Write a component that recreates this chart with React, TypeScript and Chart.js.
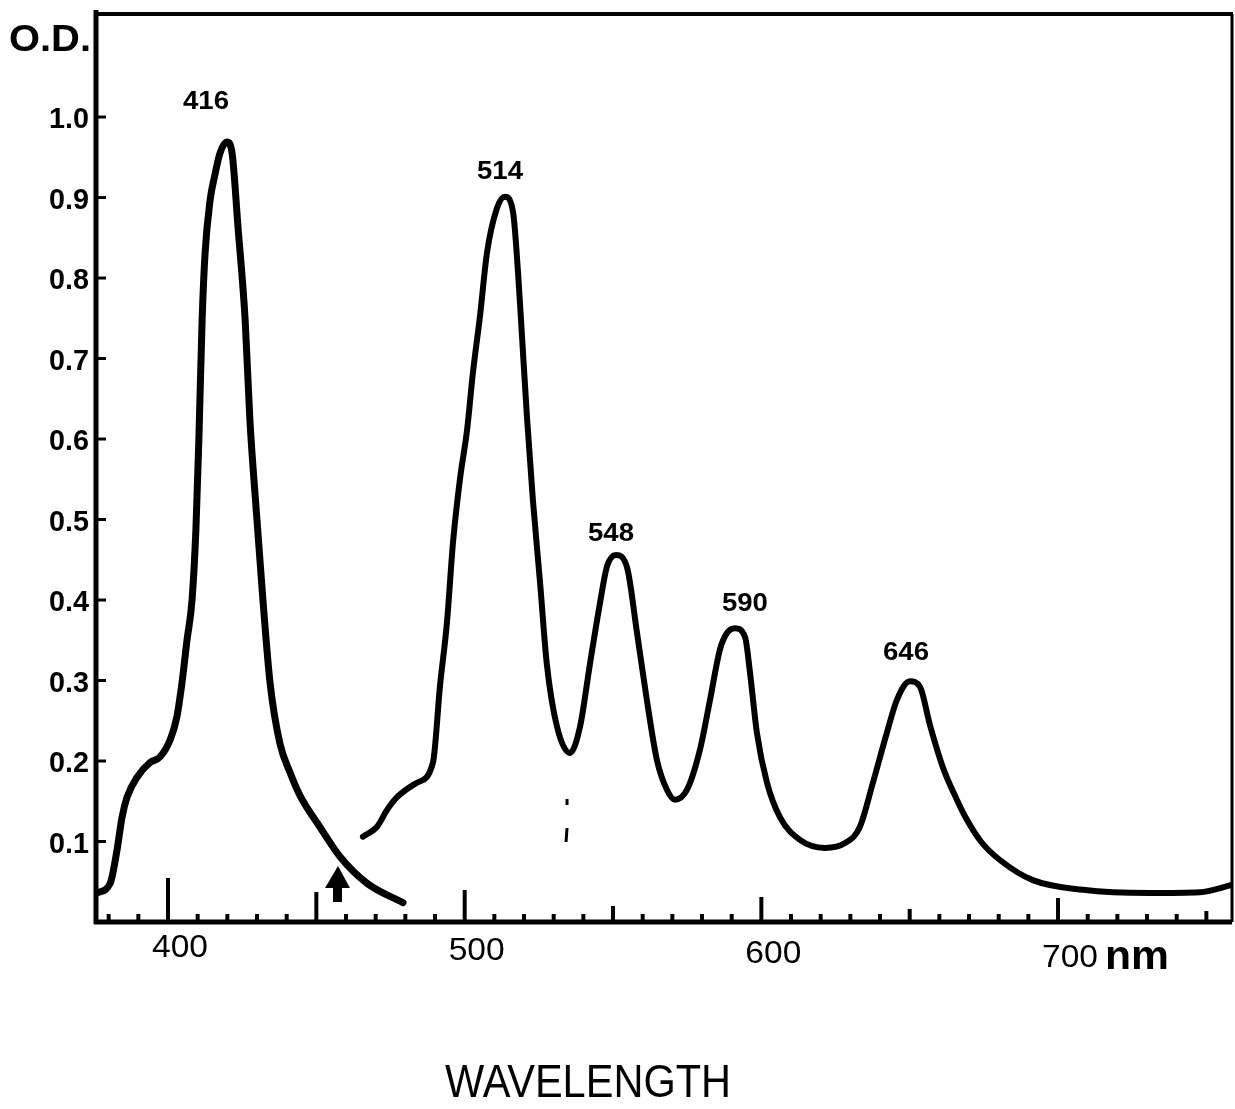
import React, { useEffect, useRef } from "react";
import { Chart, registerables } from "chart.js";

Chart.register(...registerables);

// Soret band (first trace)
const soretNm = [376.1, 380.5, 382.8, 384.5, 386.2, 389.6, 393.9, 397.3, 400.7, 403.0, 404.7, 406.4, 408.1, 409.4, 410.4, 411.5, 412.5, 414.2, 415.8, 417.5, 419.9, 421.6, 423.6, 426.0, 427.6, 430.0, 432.0, 434.4, 437.7, 441.1, 444.5, 451.2, 458.0, 467.1, 479.2];
const soretOD = [0.036, 0.048, 0.089, 0.130, 0.155, 0.180, 0.198, 0.205, 0.226, 0.255, 0.297, 0.350, 0.400, 0.487, 0.599, 0.748, 0.831, 0.897, 0.928, 0.955, 0.969, 0.955, 0.863, 0.748, 0.624, 0.499, 0.400, 0.297, 0.222, 0.186, 0.157, 0.118, 0.081, 0.048, 0.024];

// Visible bands (second trace)
const visNm = [465.7, 470.4, 473.8, 477.2, 483.9, 489.3, 491.7, 494.0, 496.1, 498.4, 500.8, 502.8, 505.2, 507.5, 510.9, 513.6, 516.3, 518.0, 519.3, 521.0, 523.0, 525.4, 527.7, 531.1, 535.5, 538.9, 542.2, 545.6, 548.0, 551.0, 554.7, 558.1, 561.4, 564.8, 568.2, 570.9, 574.9, 579.3, 582.7, 586.0, 588.4, 591.1, 594.5, 596.2, 598.5, 601.9, 606.3, 613.0, 621.4, 628.2, 633.2, 637.6, 642.3, 645.7, 650.1, 653.5, 656.8, 661.2, 665.9, 669.3, 674.0, 680.4, 691.5, 708.4, 731.0, 747.8, 758.6];
const visOD = [0.106, 0.118, 0.139, 0.155, 0.173, 0.198, 0.294, 0.371, 0.473, 0.550, 0.611, 0.683, 0.754, 0.831, 0.887, 0.901, 0.882, 0.806, 0.729, 0.627, 0.524, 0.422, 0.320, 0.243, 0.210, 0.243, 0.320, 0.396, 0.442, 0.456, 0.441, 0.359, 0.276, 0.201, 0.164, 0.152, 0.164, 0.214, 0.276, 0.338, 0.359, 0.365, 0.354, 0.309, 0.235, 0.173, 0.130, 0.102, 0.092, 0.098, 0.118, 0.173, 0.235, 0.276, 0.299, 0.292, 0.245, 0.192, 0.152, 0.127, 0.100, 0.077, 0.052, 0.040, 0.036, 0.037, 0.046];

const yTickValues = [0.1, 0.2, 0.3, 0.4, 0.5, 0.6, 0.7, 0.8, 0.9, 1.0];
const yTickLabels = ["0.1", "0.2", "0.3", "0.4", "0.5", "0.6", "0.7", "0.8", "0.9", "1.0"];
const xLabelValues = [400, 500, 600, 700];
const xLabels = ["400", "500", "600", "700"];
const peakLabels = ["416", "514", "548", "590", "646"];
const peakNm = [416, 514, 548, 590, 646];
const arrowNm = 457.3;
const markNm = 534.5;

const X_MIN = 375.73;
const X_MAX = 758.64;
const Y_MIN = 0;
const Y_MAX = 1.128;

const FONT = '"Liberation Sans", Arial, sans-serif';

function fitText(ctx: CanvasRenderingContext2D, text: string, x: number, y: number, font: string, width: number, align: CanvasTextAlign) {
  ctx.save();
  ctx.font = font;
  const w = ctx.measureText(text).width;
  const s = width / w;
  ctx.translate(x, y);
  ctx.scale(s, 1);
  ctx.textAlign = align;
  ctx.textBaseline = "alphabetic";
  ctx.fillStyle = "#000";
  ctx.fillText(text, 0, 0);
  ctx.restore();
}

const decorPlugin = {
  id: "decor",
  afterDraw(chart: any) {
    const ctx: CanvasRenderingContext2D = chart.ctx;
    const xs = chart.scales.x;
    const ys = chart.scales.y;
    const a = chart.chartArea;
    ctx.save();
    ctx.strokeStyle = "#000";
    ctx.fillStyle = "#000";
    ctx.lineCap = "butt";

    // frame
    ctx.lineWidth = 5;
    ctx.beginPath();
    ctx.moveTo(a.left, a.top - 4);
    ctx.lineTo(a.left, a.bottom + 2);
    ctx.stroke();
    ctx.beginPath();
    ctx.moveTo(a.left - 2, a.bottom);
    ctx.lineTo(a.right, a.bottom);
    ctx.stroke();
    ctx.lineWidth = 4;
    ctx.beginPath();
    ctx.moveTo(a.left, a.top);
    ctx.lineTo(a.right + 1, a.top);
    ctx.stroke();
    ctx.lineWidth = 3;
    ctx.beginPath();
    ctx.moveTo(a.right, a.top);
    ctx.lineTo(a.right, a.bottom);
    ctx.stroke();

    // y ticks and labels
    ctx.lineWidth = 3;
    yTickValues.forEach((v, i) => {
      const py = ys.getPixelForValue(v);
      ctx.beginPath();
      ctx.moveTo(a.left, py);
      ctx.lineTo(a.left + 10, py);
      ctx.stroke();
      fitText(ctx, yTickLabels[i], a.left - 7, py + 11, `bold 30px ${FONT}`, 40, "right");
    });

    // x ticks
    const lens: Record<number, number> = { 400: 44, 450: 30, 500: 32, 550: 16, 600: 25, 650: 13, 700: 24, 750: 11 };
    for (let v = 380; v <= 750; v += 10) {
      const px = xs.getPixelForValue(v);
      const len = lens[v] ?? 8;
      ctx.lineWidth = 4;
      ctx.beginPath();
      ctx.moveTo(px, a.bottom);
      ctx.lineTo(px, a.bottom - len);
      ctx.stroke();
    }

    // x labels
    xLabelValues.forEach((v, i) => {
      const px = xs.getPixelForValue(v) + 12;
      const py = 957 + (px - 183) * 0.011;
      fitText(ctx, xLabels[i], px, py, `31px ${FONT}`, 56, "center");
    });
    fitText(ctx, "nm", 1105, 969, `bold 40px ${FONT}`, 64, "left");

    // O.D.
    fitText(ctx, "O.D.", 9, 51, `bold 36px ${FONT}`, 82, "left");

    // peak labels
    const offs = [[-21, -42], [-5, -27], [-5, -23], [10, -26], [-4, -30]];
    peakNm.forEach((nm, i) => {
      const useSoret = nm < 460;
      const xsArr = useSoret ? soretNm : visNm;
      const ysArr = useSoret ? soretOD : visOD;
      let best = -1;
      let bx = nm;
      xsArr.forEach((x, j) => {
        if (Math.abs(x - nm) <= 10 && ysArr[j] > best) {
          best = ysArr[j];
          bx = x;
        }
      });
      const px = xs.getPixelForValue(bx) + offs[i][0];
      const py = ys.getPixelForValue(best) + offs[i][1];
      fitText(ctx, peakLabels[i], px, py + 9, `600 25px ${FONT}`, 46, "center");
    });

    // arrow
    const ax = xs.getPixelForValue(arrowNm);
    ctx.beginPath();
    ctx.moveTo(ax, 866);
    ctx.lineTo(ax - 13, 888);
    ctx.lineTo(ax + 12, 888);
    ctx.closePath();
    ctx.fill();
    ctx.fillRect(ax - 5, 886, 9, 16);

    // small dashed mark
    const mx = xs.getPixelForValue(markNm);
    ctx.lineWidth = 3;
    ctx.beginPath();
    ctx.moveTo(mx, 799);
    ctx.lineTo(mx, 805);
    ctx.moveTo(mx, 828);
    ctx.lineTo(mx - 1, 842);
    ctx.stroke();

    // axis title
    fitText(ctx, "WAVELENGTH", 588, 1097, `46px ${FONT}`, 286, "center");

    ctx.restore();
  },
};

export default function App() {
  const ref = useRef<HTMLCanvasElement | null>(null);
  useEffect(() => {
    if (!ref.current) return;
    const mk = (xsArr: number[], ysArr: number[]) => xsArr.map((x, i) => ({ x, y: ysArr[i] }));
    const chart = new Chart(ref.current, {
      type: "line",
      data: {
        datasets: [
          {
            data: mk(soretNm, soretOD),
            borderColor: "#000",
            borderWidth: 7,
            pointRadius: 0,
            cubicInterpolationMode: "monotone",
            borderCapStyle: "round",
            borderJoinStyle: "round",
            fill: false,
          },
          {
            data: mk(visNm, visOD),
            borderColor: "#000",
            borderWidth: 6,
            pointRadius: 0,
            cubicInterpolationMode: "monotone",
            borderCapStyle: "round",
            borderJoinStyle: "round",
            fill: false,
          },
        ],
      },
      options: {
        responsive: false,
        animation: false,
        layout: { padding: { left: 96, top: 14, right: 3, bottom: 187 } },
        plugins: { legend: { display: false }, tooltip: { enabled: false } },
        scales: {
          x: { type: "linear", min: X_MIN, max: X_MAX, display: false },
          y: { type: "linear", min: Y_MIN, max: Y_MAX, display: false },
        },
      },
      plugins: [decorPlugin],
    });
    return () => chart.destroy();
  }, []);
  return (
    <div style={{ position: "absolute", left: 0, top: 0, width: 1235, height: 1109, background: "#fff" }}>
      <canvas ref={ref} width={1235} height={1109} style={{ display: "block" }} />
    </div>
  );
}
